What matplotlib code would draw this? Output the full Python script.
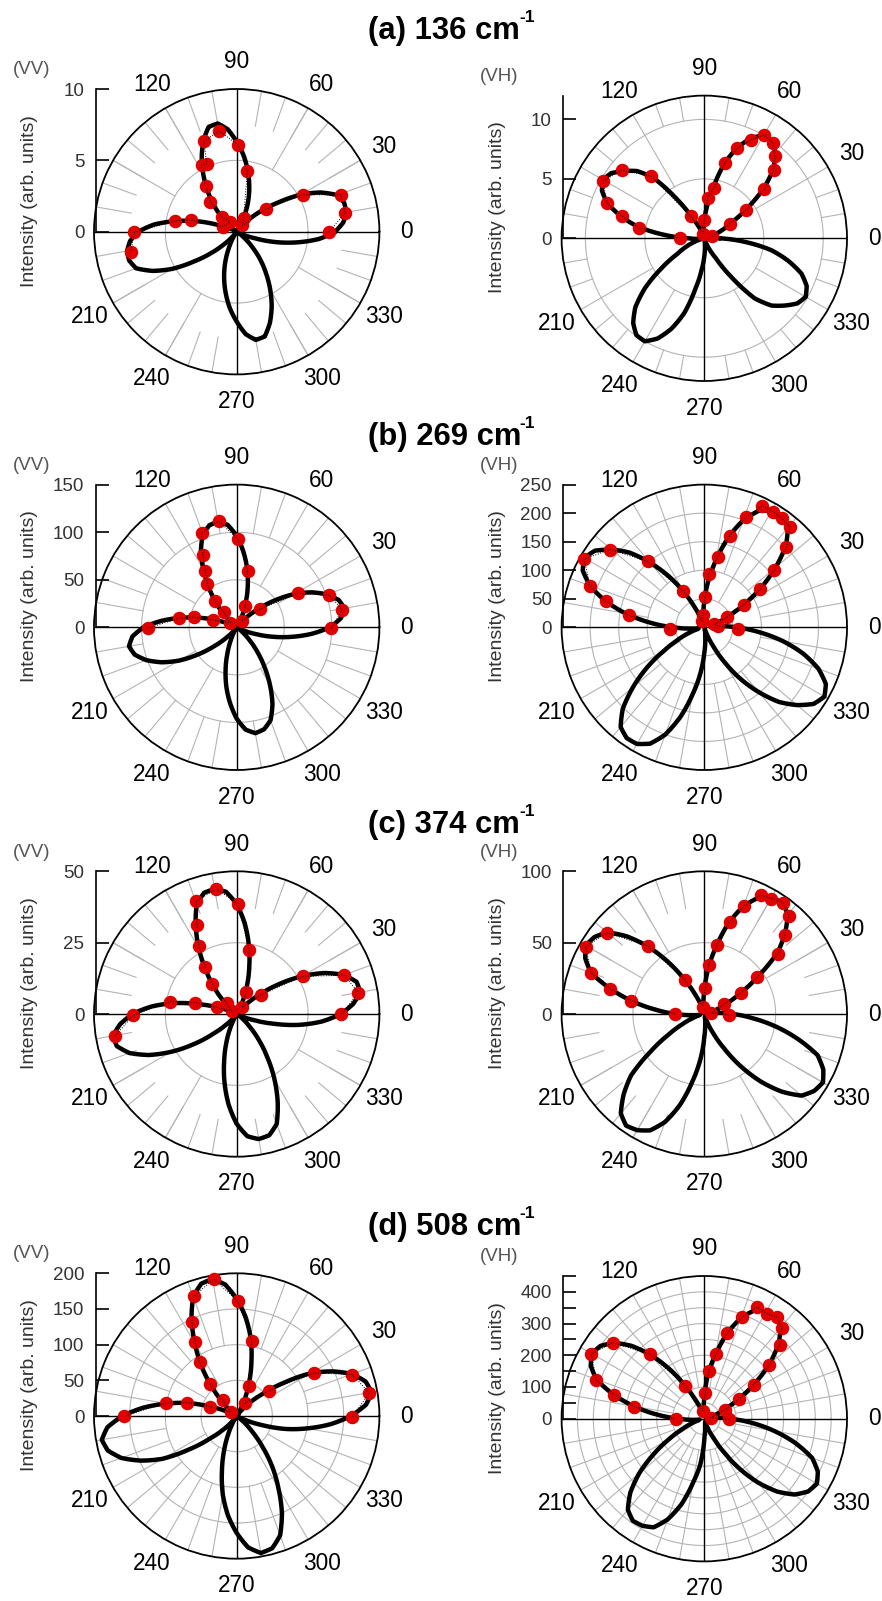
import numpy as np
import matplotlib.pyplot as plt

plt.rcParams['font.family'] = ['Liberation Sans', 'DejaVu Sans']

W, H = 882, 1601
R = 142.7          # radius of the polar circle, px
RED = '#e00000'
GRID = '#b4b4b4'

CURVE_ANGLES = list(range(0, 360, 5))

# ---------------- (a) 136 cm-1 ----------------
A_VV_PT_ANG = [0, 9.7, 19.5, 29.2, 37.6, 48, 63, 80, 89, 99.8, 109.8, 113.9, 117.9,
               124.3, 131, 135, 124, 160, 165.5, 170, 180.4, 190.8]
A_VV_PT_R = [6.47, 7.71, 7.75, 5.31, 2.59, 0.6, 1.05, 4.3, 6.07, 7.16, 6.75, 5.2, 5.27,
             3.84, 2.8, 1.5, 0.85, 1.05, 3.28, 4.37, 7.18, 7.55]
A_VV_CURVE = [6.9, 7.5, 7.8, 7.8, 7.5, 6.5, 5.2, 3.6, 2.3, 1.2, 0.4, 0.05,
              0.6, 1.4, 2.4, 3.4, 4.4, 5.4, 6.3, 7.2, 7.7, 7.6, 6.8, 5.8,
              4.7, 3.6, 2.6, 1.6, 0.8, 0.2, 0.1, 0.5, 1.3, 2.8, 4.3, 5.8,
              6.9, 7.5, 7.8, 7.8, 7.5, 6.5, 5.2, 3.6, 2.3, 1.2, 0.4, 0.05,
              0.6, 1.4, 2.4, 3.4, 4.4, 5.4, 6.3, 7.2, 7.7, 7.6, 6.8, 5.8,
              4.7, 3.6, 2.6, 1.6, 0.8, 0.2, 0.1, 0.5, 1.3, 2.8, 4.3, 5.8]

A_VH_PT_ANG = [15, 29.8, 34.2, 39.2, 44.4, 49.4, 54.3, 60, 64.5, 69.9, 74.6, 79.4, 85.2,
               90, 100, 121.6, 130.5, 140.5, 150.5, 160.1, 165.1, 170.7, 180]
A_VH_PT_R = [0.7, 2.45, 4.28, 6.5, 8.21, 9.14, 9.87, 10.04, 9.2, 8.08, 6.61, 4.32, 3.41,
             1.56, 0.4, 2.16, 6.89, 9.0, 9.77, 8.74, 7.18, 5.6, 2.04]
A_VH_CURVE = [1.3, 0.5, 0.1, 0.3, 0.9, 1.7, 2.6, 4.4, 6.5, 8.2, 9.3, 9.95,
              10.0, 9.3, 8.1, 6.5, 4.3, 2.7, 1.5, 0.6, 0.1, 0.1, 0.4, 1.0,
              1.9, 4.0, 6.6, 8.0, 8.8, 9.55, 9.85, 9.5, 8.7, 7.3, 5.7, 3.4,
              1.3, 0.5, 0.1, 0.3, 0.9, 1.7, 2.6, 4.4, 6.5, 8.2, 9.3, 9.95,
              10.0, 9.3, 8.1, 6.5, 4.3, 2.7, 1.5, 0.6, 0.1, 0.1, 0.4, 1.0,
              1.9, 4.0, 6.6, 8.0, 8.8, 9.55, 9.85, 9.5, 8.7, 7.3, 5.7, 3.4]

# ---------------- (b) 269 cm-1 ----------------
B_VV_PT_ANG = [-0.6, 9.5, 19.2, 29, 37.6, 50, 68, 79, 89.3, 99.6, 110.3, 115, 119.4,
               124.4, 130, 130.8, 145, 162.6, 166.5, 171, 180.6]
B_VV_PT_R = [99.6, 112.5, 102.9, 73.3, 31.5, 8, 23.8, 60.5, 92.5, 113.3, 105.8, 84, 67.4,
             54.8, 35.9, 20.7, 8, 26.1, 45.7, 61.3, 93.6]
B_VV_CURVE = [98, 110, 115, 111, 101, 87, 70, 50, 31, 16, 6, 1,
              4, 14, 28, 45, 63, 80, 96, 108, 113, 111, 104, 89,
              70, 51, 34, 19, 8, 2, 1, 7, 20, 38, 58, 79,
              98, 110, 115, 111, 101, 87, 70, 50, 31, 16, 6, 1,
              4, 14, 28, 45, 63, 80, 96, 108, 113, 111, 104, 89,
              70, 51, 34, 19, 8, 2, 1, 7, 20, 38, 58, 79]

B_VH_PT_ANG = [-2.9, 5.7, 18, 24, 29.8, 34.2, 39.2, 44.3, 49.6, 54.5, 59.3, 64.4, 69.4,
               74.5, 79.2, 85.3, 88, 97.7, 110, 120, 130.6, 140.4, 150.4, 160.2, 165.2,
               171, 182.9]
B_VH_PT_R = [59.3, 23.8, 18.7, 43.5, 79.9, 118.1, 158.3, 201.1, 231.2, 234.4, 235.6, 235.8,
             205.6, 166, 126, 93.3, 52.8, 22.1, 12, 73.3, 152, 213.8, 242, 212.9, 178.9,
             133.1, 59.3]
B_VH_CURVE = [55, 25, 10, 12, 28, 50, 80, 122, 163, 202, 228, 237,
              236, 225, 200, 163, 120, 82, 45, 20, 6, 3, 12, 35,
              70, 110, 148, 185, 212, 234, 243, 235, 213, 180, 140, 96,
              55, 25, 10, 12, 28, 50, 80, 122, 163, 202, 228, 237,
              236, 225, 200, 163, 120, 82, 45, 20, 6, 3, 12, 35,
              70, 110, 148, 185, 212, 234, 243, 235, 213, 180, 140, 96]

# ---------------- (c) 374 cm-1 ----------------
C_VV_PT_ANG = [0, 10, 19.8, 29.5, 38.4, 50, 67, 78.7, 89.5, 99.2, 109.6, 114, 119.2,
               123.6, 129, 133, 150, 161.6, 164.5, 169.4, 180.6, 190.3]
C_VV_PT_R = [36.7, 43.3, 40, 26.8, 10.8, 3, 8.5, 22.8, 38.7, 44.3, 42.1, 34.1, 27.2,
             19.8, 13.6, 5.2, 2, 7.4, 15, 23.7, 36.2, 43.3]
C_VV_CURVE = [36.5, 41, 44, 43.5, 40, 34, 26.5, 18.5, 11, 5.5, 2, 0.3,
              1.5, 5, 10.5, 17, 24.5, 32, 38.5, 43, 44.5, 44, 41, 34,
              26.5, 19, 12.5, 7, 3.3, 1, 0.3, 2, 6, 13, 22, 30,
              36.5, 41, 44, 43.5, 40, 34, 26.5, 18.5, 11, 5.5, 2, 0.3,
              1.5, 5, 10.5, 17, 24.5, 32, 38.5, 43, 44.5, 44, 41, 34,
              26.5, 19, 12.5, 7, 3.3, 1, 0.3, 2, 6, 13, 22, 30]

C_VH_PT_ANG = [-2.4, 10, 26.6, 29.9, 34.8, 39.3, 44.4, 49.2, 54.7, 59.8, 64.6, 69.9, 74.7,
               79.6, 84.9, 87.8, 102.8, 119.6, 129.7, 140.2, 150.5, 160.1, 165, 169.6, 180]
C_VH_PT_R = [17, 5, 15.8, 29.3, 45.3, 66.9, 79, 90.7, 95.7, 93.6, 92.2, 80.7, 67.1,
             49.5, 34.3, 18.1, 5.3, 27.6, 61.8, 88.9, 95.5, 84.3, 68.2, 52.2, 20.5]
C_VH_CURVE = [20, 9, 3, 4, 9, 17, 29, 46, 67, 80, 91, 95.5,
              94, 90, 80.5, 66, 48, 32, 16, 7, 2, 2, 6, 15,
              28, 45, 62, 77, 89, 94, 96, 92, 84.5, 68, 51, 34,
              20, 9, 3, 4, 9, 17, 29, 46, 67, 80, 91, 95.5,
              94, 90, 80.5, 66, 48, 32, 16, 7, 2, 2, 6, 15,
              28, 45, 62, 77, 89, 94, 96, 92, 84.5, 68, 51, 34]

# ---------------- (d) 508 cm-1 ----------------
D_VV_PT_ANG = [-0.3, 9.8, 19.7, 29.1, 38.3, 56.7, 68.3, 78.6, 89.5, 99.5, 109.7, 115.4,
               119.4, 124.5, 129.1, 132.4, 145, 160.3, 164.8, 169.7, 180]
D_VV_PT_R = [162.2, 188.6, 172.3, 124.5, 57.2, 21.5, 44.8, 107.6, 160.8, 194.6, 178.3, 146.6,
             118.3, 91.8, 58.5, 29.5, 10, 39.2, 72, 100.9, 157.4]
D_VV_CURVE = [160, 182, 192, 187, 172, 148, 120, 82, 50, 28, 12, 4,
              10, 28, 52, 80, 112, 140, 164, 185, 195, 192, 178, 150,
              117, 87, 56, 30, 12, 3, 2, 14, 36, 70, 100, 132,
              160, 182, 192, 187, 172, 148, 120, 82, 50, 28, 12, 4,
              10, 28, 52, 80, 112, 140, 164, 185, 195, 192, 178, 150,
              117, 87, 56, 30, 12, 3, 2, 14, 36, 70, 100, 132]

D_VH_PT_ANG = [-1.6, 10, 23.4, 29.8, 34.5, 39.5, 44.3, 49.4, 54.5, 59.3, 64.9, 69.4, 75,
               79.6, 84.7, 87.7, 101.8, 120.2, 130.3, 140.3, 150.3, 160.4, 165.2, 170.1, 181.3]
D_VH_PT_R = [77.7, 20, 69.6, 126.3, 189.7, 266, 331.8, 375.8, 393.5, 385, 388.9, 342, 279.7,
             206.6, 150.6, 80.9, 26, 120.6, 266.5, 376, 410, 361.4, 295, 223.5, 90.4]
D_VH_CURVE = [80, 40, 15, 18, 40, 75, 127, 195, 268, 330, 375, 393,
              390, 378, 338, 280, 205, 145, 65, 28, 12, 10, 30, 65,
              118, 190, 262, 325, 372, 400, 410, 395, 362, 298, 225, 150,
              80, 40, 15, 18, 40, 75, 127, 195, 268, 330, 375, 393,
              390, 378, 338, 280, 205, 145, 65, 28, 12, 10, 30, 65,
              118, 190, 262, 325, 372, 400, 410, 395, 362, 298, 225, 150]

TITLES = ['(a) 136 cm', '(b) 269 cm', '(c) 374 cm', '(d) 508 cm']
TITLE_BASELINE = [39.5, 445, 833, 1235]
ANGLE_LABELS = [0, 30, 60, 90, 120, 210, 240, 270, 300, 330]

# one entry per panel: data, pixel centre, radial range and the grey grid
panels = [
    dict(ang=A_VV_PT_ANG, r=A_VV_PT_R, curve=A_VV_CURVE, c=(236.7, 231.7), rmax=10,
         ticks=[0, 5, 10], labels=['0', '5', '10'], tag='(VV)',
         circles=[5], spokes=[(5, 10, 30), (7.5, 10, 10)]),
    dict(ang=A_VH_PT_ANG, r=A_VH_PT_R, curve=A_VH_CURVE, c=(704.3, 238.3), rmax=12,
         ticks=[0, 5, 10], labels=['0', '5', '10'], tag='(VH)',
         circles=[5, 10], spokes=[(5, 10, 30), (10, 12, 10)]),
    dict(ang=B_VV_PT_ANG, r=B_VV_PT_R, curve=B_VV_CURVE, c=(236.7, 627.3), rmax=150,
         ticks=[0, 50, 100, 150], labels=['0', '50', '100', '150'], tag='(VV)',
         circles=[50, 100], spokes=[(50, 100, 30), (100, 150, 10)]),
    dict(ang=B_VH_PT_ANG, r=B_VH_PT_R, curve=B_VH_CURVE, c=(704.3, 627.3), rmax=250,
         ticks=[0, 50, 100, 150, 200, 250], labels=['0', '50', '100', '150', '200', '250'],
         tag='(VH)', circles=[50, 100, 150, 200], spokes=[(50, 100, 30), (100, 250, 10)]),
    dict(ang=C_VV_PT_ANG, r=C_VV_PT_R, curve=C_VV_CURVE, c=(236.7, 1014), rmax=50,
         ticks=[0, 25, 50], labels=['0', '25', '50'], tag='(VV)',
         circles=[25], spokes=[(25, 50, 30), (37.5, 50, 10)]),
    dict(ang=C_VH_PT_ANG, r=C_VH_PT_R, curve=C_VH_CURVE, c=(704.3, 1014), rmax=100,
         ticks=[0, 50, 100], labels=['0', '50', '100'], tag='(VH)',
         circles=[50], spokes=[(50, 100, 30), (75, 100, 10)]),
    dict(ang=D_VV_PT_ANG, r=D_VV_PT_R, curve=D_VV_CURVE, c=(236.7, 1416), rmax=200,
         ticks=[0, 50, 100, 150, 200], labels=['0', '50', '100', '150', '200'], tag='(VV)',
         circles=[50, 100, 150], spokes=[(50, 100, 30), (100, 200, 10)]),
    dict(ang=D_VH_PT_ANG, r=D_VH_PT_R, curve=D_VH_CURVE, c=(704.3, 1418.7), rmax=450,
         ticks=[0, 50, 100, 150, 200, 250, 300, 350, 400, 450],
         labels=['0', '', '100', '', '200', '', '300', '', '400', ''], tag='(VH)',
         circles=[50, 100, 150, 200, 250, 300, 350, 400], spokes=[(50, 100, 30), (100, 450, 10)]),
]

fig = plt.figure(figsize=(W / 100, H / 100), dpi=100)

for p in panels:
    cx, cy = p['c']
    rmax = p['rmax']
    ax = fig.add_axes([(cx - R) / W, 1 - (cy + R) / H, 2 * R / W, 2 * R / H], projection='polar')
    ax.set_ylim(0, rmax)
    ax.set_xticks([])
    ax.set_yticks([])
    ax.grid(False)
    ax.spines['polar'].set_linewidth(1.3)

    # grey grid: circles and banded spokes
    th = np.linspace(0, 2 * np.pi, 361)
    for rc in p['circles']:
        ax.plot(th, np.full_like(th, rc), color=GRID, lw=0.8, zorder=1)
    for r0, r1, step in p['spokes']:
        for a in range(0, 360, step):
            if a % 90 == 0:
                continue
            ax.plot([np.radians(a)] * 2, [r0, r1], color=GRID, lw=0.8, zorder=1)
    for a in (0, 90, 180, 270):
        ax.plot([np.radians(a)] * 2, [0, rmax], color='black', lw=1.0, zorder=1.5)

    # fitted curve
    ca = np.radians(CURVE_ANGLES + [360])
    cr = p['curve'] + [p['curve'][0]]
    line, = ax.plot(ca, cr, color='black', lw=3.2, zorder=2,
                    solid_joinstyle='round', solid_capstyle='round')
    line.get_path()._interpolation_steps = 10

    # measured points
    pa = np.radians(p['ang'])
    ax.plot(pa, p['r'], 'o', color=RED, ms=8.7, mec=RED, zorder=3, clip_on=False)
    ax.plot(pa, p['r'], ':', color='black', lw=0.7, zorder=4, clip_on=False)

    # angle labels
    for a in ANGLE_LABELS:
        ax.text(np.radians(a), rmax * 1.19, str(a), ha='center', va='center',
                fontsize=16.3, color='black', clip_on=False)

    # radial intensity axis on the left
    ay = fig.add_axes([(cx - R + 1.5) / W, 1 - cy / H, 0.001, R / H])
    ay.patch.set_visible(False)
    ay.set_ylim(0, rmax)
    ay.set_xticks([])
    for s in ('top', 'right', 'bottom'):
        ay.spines[s].set_visible(False)
    ay.spines['left'].set_linewidth(1.2)
    ay.spines['left'].set_bounds(0, rmax)
    ay.set_yticks(p['ticks'])
    ay.set_yticklabels(p['labels'])
    ay.tick_params(axis='y', direction='in', length=9.5, width=1.2, pad=8,
                   labelsize=13.5, labelcolor='#333333')

    fig.text((cx - 207) / W, 1 - (cy - 31) / H, 'Intensity (arb. units)', rotation=90,
             ha='center', va='center', fontsize=14, color='#333333')
    fig.text((cx - 205) / W, 1 - (cy - 162) / H, p['tag'], ha='center', va='center',
             fontsize=13.5, color='#555555')

for title, base in zip(TITLES, TITLE_BASELINE):
    fig.text(368 / W, 1 - base / H, title, ha='left', va='baseline',
             fontsize=22.3, fontweight='bold')
    fig.text(519 / W, 1 - (base - 17) / H, '-1', ha='left', va='baseline',
             fontsize=12.5, fontweight='bold')

fig.savefig('out.png', dpi=100)
